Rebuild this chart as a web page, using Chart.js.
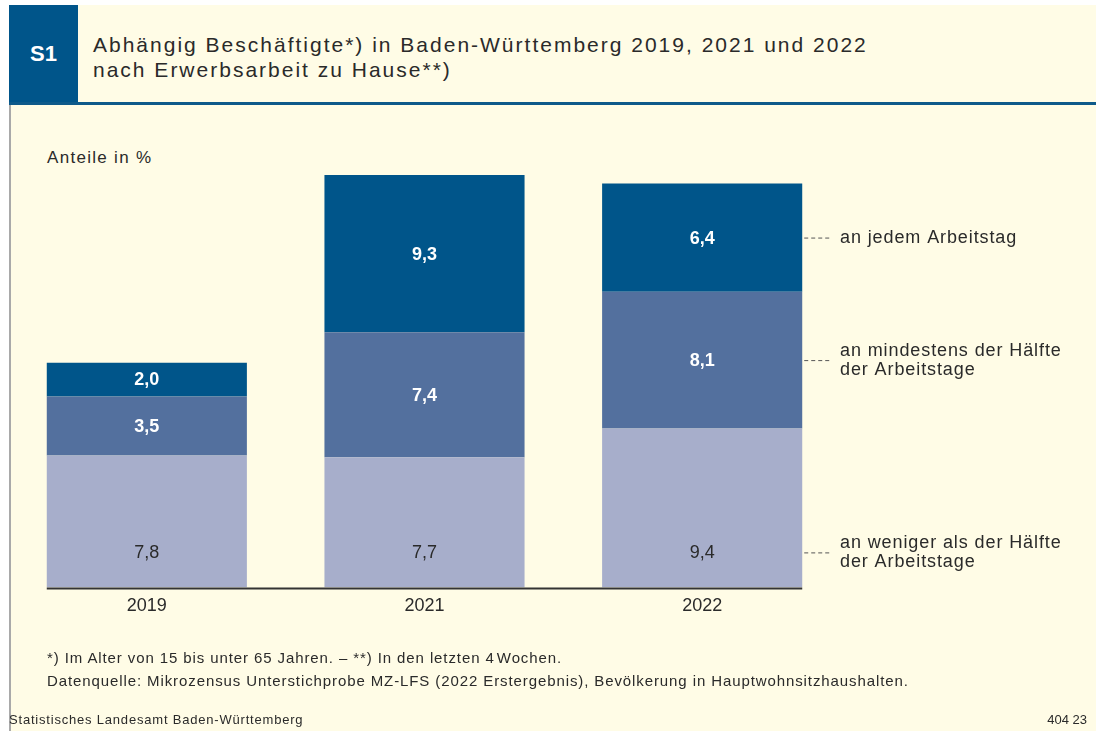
<!DOCTYPE html>
<html lang="de">
<head>
<meta charset="utf-8">
<title>S1 Abhängig Beschäftigte nach Erwerbsarbeit zu Hause</title>
<script src="https://cdn.jsdelivr.net/npm/chart.js@4"></script>
<style>
  html, body { margin: 0; padding: 0; background: #fff; }
  body { width: 1096px; height: 731px; position: relative; overflow: hidden;
         font-family: "Liberation Sans", Arial, sans-serif; color: #2a2a2a; }
  #panel { position: absolute; left: 9px; top: 5px; right: 0; bottom: 0; background: #fffce6; }
  #leftline { position: absolute; left: 9px; top: 105px; width: 2px; bottom: 0; background: #a9a9a9; }
  #s1 { position: absolute; left: 9px; top: 5px; width: 69px; height: 97px; background: #00558a;
        color: #fff; font-weight: bold; font-size: 22px; line-height: 97px; text-align: center; }
  #rule { position: absolute; left: 9px; right: 0; top: 102px; height: 3px; background: #0e5a8a; }
  #title { position: absolute; left: 93px; top: 32px; font-size: 21px; line-height: 25px;
           letter-spacing: 2px; color: #2a2a2a; }
  #unit { position: absolute; left: 47px; top: 148px; font-size: 17px; letter-spacing: 1.3px; }
  #notes { position: absolute; left: 47px; top: 646px; font-size: 15px; line-height: 23px; letter-spacing: 0.9px; }
  #source { position: absolute; left: 9px; top: 712px; font-size: 13px; letter-spacing: 0.8px; }
  #code { position: absolute; right: 9px; top: 712px; font-size: 13px; }
  canvas { position: absolute; left: 0; top: 0; }
</style>
</head>
<body>
<div id="panel"></div>
<div id="leftline"></div>
<div id="s1">S1</div>
<div id="rule"></div>
<div id="title">Abhängig Beschäftigte*) in Baden-Württemberg 2019, 2021 und 2022<br>nach Erwerbsarbeit zu Hause**)</div>
<div id="unit">Anteile in %</div>
<canvas id="chart" width="1096" height="731"></canvas>
<div id="notes">*) Im Alter von 15 bis unter 65 Jahren. – **) In den letzten 4&#8202;Wochen.<br>Datenquelle: Mikrozensus Unterstichprobe MZ-LFS (2022 Erstergebnis), Bevölkerung in Hauptwohnsitzhaushalten.</div>
<div id="source">Statistisches Landesamt Baden-Württemberg</div>
<div id="code">404 23</div>

<script>
const years = ["2019", "2021", "2022"];
const wenigerAlsHaelfte = [7.8, 7.7, 9.4];
const mindestensHaelfte = [3.5, 7.4, 8.1];
const jedenTag = [2.0, 9.3, 6.4];
const seriesNames = [
    ["an weniger als der Hälfte", "der Arbeitstage"],
    ["an mindestens der Hälfte", "der Arbeitstage"],
    ["an jedem Arbeitstag"]
];

const fmt = v => v.toFixed(1).replace(".", ",");

const labelPlugin = {
    id: "barLabels",
    afterDatasetsDraw(chart) {
        const ctx = chart.ctx;
        const yScale = chart.scales.y;
        ctx.save();

        // baseline under the bars
        const first = chart.getDatasetMeta(0).data[0];
        const last = chart.getDatasetMeta(0).data[years.length - 1];
        const base = yScale.getPixelForValue(0);
        ctx.strokeStyle = "#333";
        ctx.lineWidth = 2;
        ctx.beginPath();
        ctx.moveTo(first.x - first.width / 2, base + 1);
        ctx.lineTo(last.x + last.width / 2, base + 1);
        ctx.stroke();

        ctx.textAlign = "center";
        ctx.textBaseline = "middle";
        chart.data.datasets.forEach((ds, i) => {
            const meta = chart.getDatasetMeta(i);
            meta.data.forEach((bar, j) => {
                let y;
                ctx.letterSpacing = "0px";
                if (i === 0) {
                    ctx.font = "18px 'Liberation Sans', Arial, sans-serif";
                    ctx.fillStyle = "#2a2a2a";
                    y = bar.base - 35;
                } else {
                    ctx.font = "bold 18px 'Liberation Sans', Arial, sans-serif";
                    ctx.fillStyle = "#fff";
                    y = (bar.y + bar.base) / 2;
                }
                ctx.fillText(fmt(ds.data[j]), bar.x, y + 1);

                // series labels next to the last bar
                if (j === years.length - 1) {
                    const x0 = bar.x + bar.width / 2 + 2;
                    ctx.strokeStyle = "#555";
                    ctx.lineWidth = 1;
                    ctx.setLineDash([4, 3]);
                    ctx.beginPath();
                    ctx.moveTo(x0, y + 0.5);
                    ctx.lineTo(832, y + 0.5);
                    ctx.stroke();
                    ctx.setLineDash([]);

                    ctx.save();
                    ctx.textAlign = "left";
                    ctx.font = "18px 'Liberation Sans', Arial, sans-serif";
                    ctx.letterSpacing = "0.9px";
                    ctx.fillStyle = "#2a2a2a";
                    const lines = seriesNames[i];
                    const lh = 19;
                    const top = y - (lines.length - 1) * lh / 2;
                    lines.forEach((t, k) => ctx.fillText(t, 840, top + k * lh));
                    ctx.restore();
                }
            });
        });
        ctx.restore();
    }
};

new Chart(document.getElementById("chart").getContext("2d"), {
    type: "bar",
    data: {
        labels: years,
        datasets: [
            { label: seriesNames[0].join(" "), data: wenigerAlsHaelfte, backgroundColor: "#a7aecb" },
            { label: seriesNames[1].join(" "), data: mindestensHaelfte, backgroundColor: "#53709e" },
            { label: seriesNames[2].join(" "), data: jedenTag, backgroundColor: "#00558a" }
        ]
    },
    options: {
        responsive: false,
        animation: false,
        events: [],
        barPercentage: 1,
        categoryPercentage: 0.7207,
        layout: { padding: { left: 8, right: 255, top: 148, bottom: 106 } },
        plugins: {
            legend: { display: false },
            tooltip: { enabled: false }
        },
        scales: {
            x: {
                stacked: true,
                offset: true,
                grid: { display: false, drawTicks: false },
                border: { display: false },
                ticks: {
                    padding: 8,
                    color: "#2a2a2a",
                    font: { family: "'Liberation Sans', Arial, sans-serif", size: 18 }
                }
            },
            y: {
                stacked: true,
                display: false,
                min: 0,
                max: 26
            }
        }
    },
    plugins: [labelPlugin]
});
</script>
</body>
</html>
